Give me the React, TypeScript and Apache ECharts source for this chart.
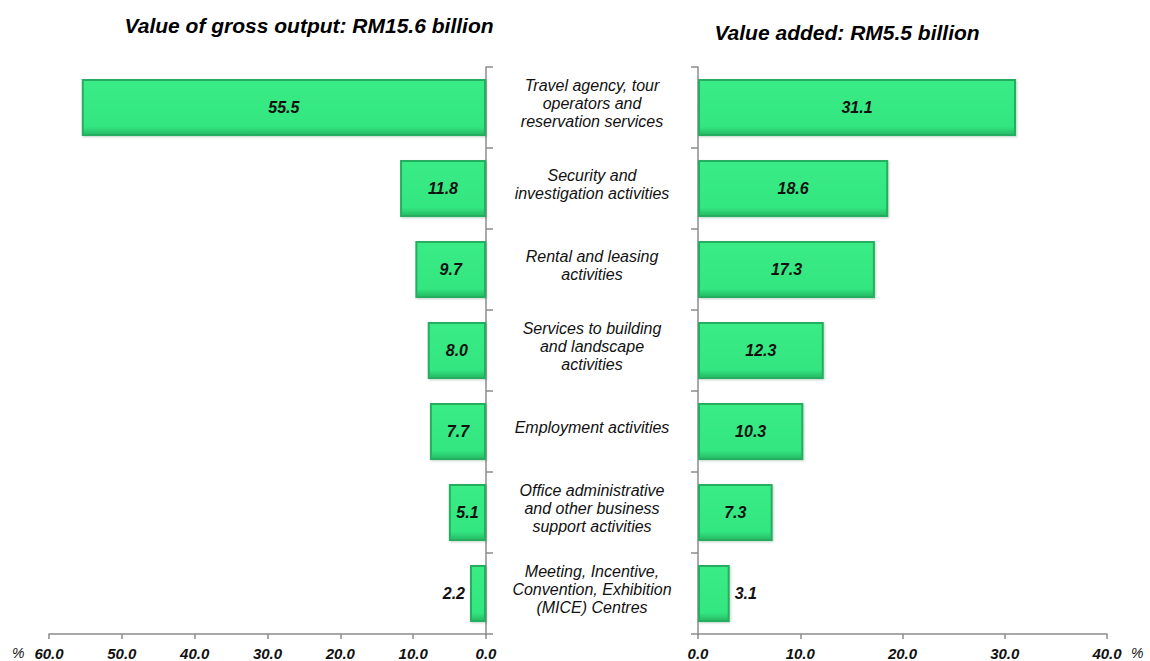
import React, { useEffect, useRef } from "react";
import * as echarts from "echarts";

const categories = [
  "Travel agency, tour\noperators and\nreservation services",
  "Security and\ninvestigation activities",
  "Rental and leasing\nactivities",
  "Services to building\nand landscape\nactivities",
  "Employment activities",
  "Office administrative\nand other business\nsupport activities",
  "Meeting, Incentive,\nConvention, Exhibition\n(MICE) Centres",
];
const grossOutput = [55.5, 11.8, 9.7, 8.0, 7.7, 5.1, 2.2];
const valueAdded = [31.1, 18.6, 17.3, 12.3, 10.3, 7.3, 3.1];
const leftTitle = "Value of gross output: RM15.6 billion";
const rightTitle = "Value added: RM5.5 billion";

const FONT = "'Liberation Sans', Arial, sans-serif";

export default function App() {
  const ref = useRef<HTMLDivElement>(null);
  useEffect(() => {
    if (!ref.current) return;
    const chart = echarts.init(ref.current, null, { renderer: "svg" });
    const barStyle = {
      color: {
        type: "linear",
        x: 0,
        y: 0,
        x2: 0,
        y2: 1,
        colorStops: [
          { offset: 0, color: "#3AEC86" },
          { offset: 0.85, color: "#33E680" },
          { offset: 1, color: "#26B863" },
        ],
      },
      borderColor: "#27AE60",
      borderWidth: 2,
      shadowColor: "rgba(0,80,30,0.25)",
      shadowBlur: 2,
      shadowOffsetX: 1,
      shadowOffsetY: 1,
    };
    const valLabel = {
      fontFamily: FONT,
      fontSize: 16,
      fontWeight: "bold" as const,
      fontStyle: "italic" as const,
      color: "#111",
    };
    const axisLabelStyle = { ...valLabel, fontSize: 15 };
    const axisLine = { show: true, lineStyle: { color: "#8c8c8c", width: 1.5 } };
    const mkData = (vals: number[], outsidePos: string) =>
      vals.map((v, i) => ({
        value: v,
        label:
          i === vals.length - 1
            ? { show: true, position: outsidePos, distance: 5, formatter: (p: any) => p.value.toFixed(1), ...valLabel }
            : undefined,
      }));
    chart.setOption({
      animation: false,
      textStyle: { fontFamily: FONT },
      title: [
        {
          text: leftTitle,
          left: 304,
          top: 10,
          textAlign: "center",
          textStyle: { fontFamily: FONT, fontSize: 21, fontWeight: "bold", fontStyle: "italic", color: "#000" },
        },
        {
          text: rightTitle,
          left: 842,
          top: 17,
          textAlign: "center",
          textStyle: { fontFamily: FONT, fontSize: 21, fontWeight: "bold", fontStyle: "italic", color: "#000" },
        },
      ],
      grid: [
        { left: 49, right: 664, top: 67, bottom: 26 },
        { left: 698, right: 43, top: 67, bottom: 26 },
      ],
      xAxis: [
        {
          gridIndex: 0,
          type: "value",
          min: 0,
          max: 60,
          interval: 10,
          inverse: true,
          splitLine: { show: false },
          axisLine,
          axisTick: { show: true, length: 5, lineStyle: { color: "#8c8c8c", width: 1.5 } },
          axisLabel: { ...axisLabelStyle, margin: 12, formatter: (v: number) => v.toFixed(1) },
        },
        {
          gridIndex: 1,
          type: "value",
          min: 0,
          max: 40,
          interval: 10,
          splitLine: { show: false },
          axisLine,
          axisTick: { show: true, length: 5, lineStyle: { color: "#8c8c8c", width: 1.5 } },
          axisLabel: { ...axisLabelStyle, margin: 12, formatter: (v: number) => v.toFixed(1) },
        },
      ],
      yAxis: [
        {
          gridIndex: 0,
          type: "category",
          data: categories,
          inverse: true,
          position: "right",
          axisLine,
          axisTick: { show: true, length: 7, lineStyle: { color: "#8c8c8c", width: 1.5 } },
          axisLabel: {
            align: "center",
            margin: 106,
            fontFamily: FONT,
            fontSize: 16,
            fontStyle: "italic",
            color: "#111",
            lineHeight: 18,
            formatter: (v: string) => v + "\n{s| }",
            rich: { s: { fontSize: 2, lineHeight: 8 } },
          },
        },
        {
          gridIndex: 1,
          type: "category",
          data: categories,
          inverse: true,
          position: "left",
          axisLine,
          axisTick: { show: true, length: 7, lineStyle: { color: "#8c8c8c", width: 1.5 } },
          axisLabel: { show: false },
        },
      ],
      series: [
        {
          type: "bar",
          xAxisIndex: 0,
          yAxisIndex: 0,
          barWidth: 57,
          data: mkData(grossOutput, "left"),
          itemStyle: barStyle,
          label: { show: true, position: "inside", formatter: (p: any) => p.value.toFixed(1), ...valLabel },
        },
        {
          type: "bar",
          xAxisIndex: 1,
          yAxisIndex: 1,
          barWidth: 57,
          data: mkData(valueAdded, "right"),
          itemStyle: barStyle,
          label: { show: true, position: "inside", formatter: (p: any) => p.value.toFixed(1), ...valLabel },
        },
      ],
      graphic: [
        {
          type: "text",
          x: 12,
          y: 653,
          style: { text: "%", font: `italic 14px ${FONT}`, fill: "#111", verticalAlign: "middle" },
        },
        {
          type: "text",
          x: 1131,
          y: 653,
          style: { text: "%", font: `italic 14px ${FONT}`, fill: "#111", verticalAlign: "middle" },
        },
      ],
    });
    return () => chart.dispose();
  }, []);
  return <div ref={ref} style={{ width: 1150, height: 661, position: "absolute", left: 0, top: 0 }} />;
}
